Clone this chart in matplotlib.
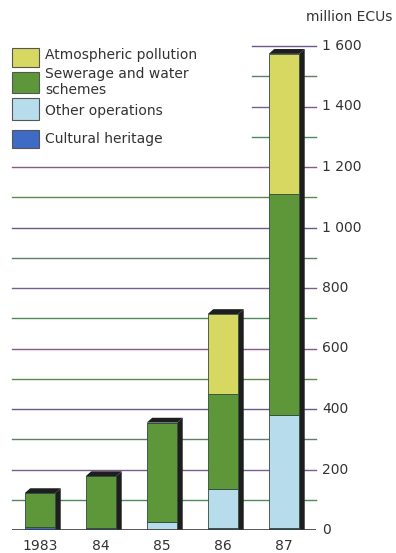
import matplotlib
matplotlib.use('Agg')
from matplotlib import pyplot as plt
from matplotlib.patches import Rectangle, Polygon
import numpy as np

# EIB financing for the environment, million ECUs
years = ['1983', '84', '85', '86', '87']
cultural = [10, 8, 0, 6, 6]
other = [0, 0, 28, 129, 374]
sewerage = [112, 170, 327, 315, 731]
atmospheric = [0, 0, 0, 264, 463]

series = [cultural, other, sewerage, atmospheric]
colors = ['#3d6bc6', '#b7dded', '#5e9739', '#d7d862']
legend_labels = ['Atmospheric pollution', 'Sewerage and water\nschemes',
                 'Other operations', 'Cultural heritage']
legend_colors = ['#d7d862', '#5e9739', '#b7dded', '#3d6bc6']

tick_values = [0, 200, 400, 600, 800, 1000, 1200, 1400, 1600]
tick_labels = ['0', '200', '400', '600', '800', '1 000', '1 200', '1 400', '1 600']

W, H = 396, 553
fig = plt.figure(figsize=(W / 100, H / 100), dpi=100)
plt.rcParams['font.family'] = 'DejaVu Sans'
text_color = '#333333'


def fx(px):
    return px / W


def fy(py):
    return 1 - py / H


# axes box: x 12..316 px, y 530 (0) .. 46 (1600) px
ax = fig.add_axes([fx(12), fy(530), fx(316) - fx(12), fy(46) - fy(530)])
x = np.arange(len(years))
ax.set_xlim(-0.459, 4.525)
ax.set_ylim(0, 1600)
ax.axis('off')

# gridlines, printed in slightly different inks
grid_colors = ['#4f8a5a', '#7a5f8c', '#5f7f6a', '#6a5a8a', '#5d8a4a', '#8a5a86']
for i, v in enumerate(range(100, 1700, 100)):
    start = -0.459 if v <= 1200 else 3.475
    ax.plot([start, 4.525], [v, v], color=grid_colors[i % len(grid_colors)],
            lw=1.0, zorder=1, clip_on=False)
ax.plot([-0.459, 4.525], [0, 0], color='#3a3a3a', lw=1.2, zorder=5)

# stacked bars with a dark 3-D side and top
width = 0.5
dx, dy = 0.09, 16
totals = np.sum(series, axis=0)
for i in range(len(years)):
    x0, x1 = x[i] - width / 2, x[i] + width / 2
    top = totals[i]
    ax.add_patch(Polygon([(x1, 0), (x1, top), (x1 + dx, top + dy), (x1 + dx, 0)],
                         closed=True, facecolor='#1e1e1e', edgecolor='none',
                         zorder=3, clip_on=False))
    ax.add_patch(Polygon([(x0, top), (x0 + dx, top + dy), (x1 + dx, top + dy), (x1, top)],
                         closed=True, facecolor='#1e1e1e', edgecolor='none',
                         zorder=3, clip_on=False))

bottom = np.zeros(len(years))
for vals, c in zip(series, colors):
    vals = np.array(vals, dtype=float)
    ax.bar(x, vals, width=width, bottom=bottom, color=c, edgecolor='#2f4a3c',
           linewidth=0.6, zorder=4)
    bottom += vals

# right-hand value labels
for v, lab in zip(tick_values, tick_labels):
    fig.text(fx(322), fy(530 - v * 0.3025), lab, fontsize=10, color=text_color,
             va='center', ha='left')
fig.text(fx(392), fy(17), 'million ECUs', fontsize=10, color=text_color,
         va='center', ha='right')

# year labels
for i, lab in enumerate(years):
    fig.text(fx(12 + (x[i] + 0.459) * 61), fy(546), lab, fontsize=10,
             color=text_color, ha='center', va='center')

# legend
swatches = [(48, 67), (72, 93), (98, 120), (130, 148)]
text_y = [55, 82, 111, 139]
for (top, bot), ty, lab, c in zip(swatches, text_y, legend_labels, legend_colors):
    fig.add_artist(Rectangle((fx(12), fy(bot)), fx(39) - fx(12), fy(top) - fy(bot),
                             transform=fig.transFigure, facecolor=c,
                             edgecolor='#555555', linewidth=0.8))
    fig.text(fx(45), fy(ty), lab, fontsize=10, color=text_color, va='center',
             ha='left', linespacing=1.2)

fig.savefig('out.png', dpi=100)
